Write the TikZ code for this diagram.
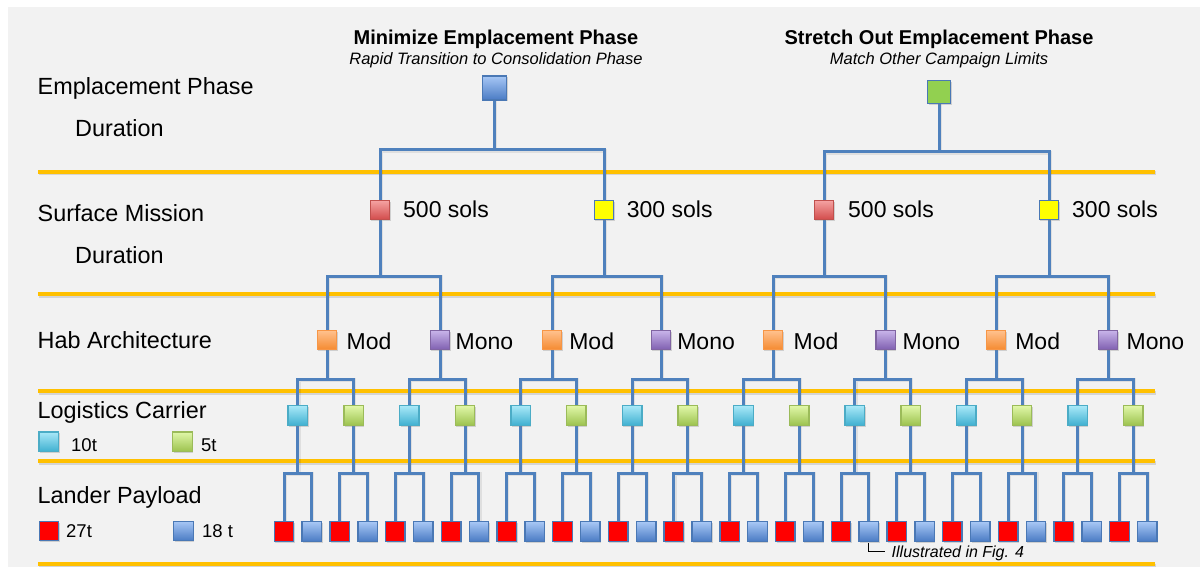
\documentclass[tikz,border=0pt]{standalone}
\usepackage{fontspec}
\setmainfont{Liberation Sans}
\usetikzlibrary{shadows}
\definecolor{panelc}{HTML}{F2F2F2}
\definecolor{goldc}{HTML}{FFC000}
\definecolor{connc}{HTML}{4F81BD}
\definecolor{blueT}{HTML}{A7C7F5}
\definecolor{blueB}{HTML}{4A7BC4}
\definecolor{blueE}{HTML}{4A78B5}
\definecolor{greenF}{HTML}{92D050}
\definecolor{redT}{HTML}{F5A3A3}
\definecolor{redB}{HTML}{D24B4A}
\definecolor{redE}{HTML}{C0504D}
\definecolor{yelF}{HTML}{FFFF00}
\definecolor{oraT}{HTML}{FFC28F}
\definecolor{oraB}{HTML}{F58A30}
\definecolor{oraE}{HTML}{F79646}
\definecolor{purT}{HTML}{C9B5EA}
\definecolor{purB}{HTML}{7F5FB0}
\definecolor{purE}{HTML}{8064A2}
\definecolor{cyaT}{HTML}{A8E8F8}
\definecolor{cyaB}{HTML}{3FB0D0}
\definecolor{cyaE}{HTML}{4BACC6}
\definecolor{limT}{HTML}{E0F7A8}
\definecolor{limB}{HTML}{9CC24E}
\definecolor{limE}{HTML}{9BBB59}
\definecolor{redF}{HTML}{FF0000}
\pgfdeclarelayer{back}
\pgfdeclarelayer{wires}
\pgfsetlayers{back,wires,main}
\tikzset{
  box/.style={draw, line width=1.4pt, minimum size=19.5pt, inner sep=0pt, outer sep=0pt,
     drop shadow={shadow xshift=1pt, shadow yshift=-1.5pt, opacity=0.3}},
  bluebox/.style={box, draw=blueE, top color=blueT, bottom color=blueB},
  greenbox/.style={box, draw=blueE, fill=greenF},
  redgbox/.style={box, draw=redE, top color=redT, bottom color=redB},
  yelbox/.style={box, draw=blueE, fill=yelF},
  orabox/.style={box, draw=oraE, top color=oraT, bottom color=oraB},
  purbox/.style={box, draw=purE, top color=purT, bottom color=purB},
  cyabox/.style={box, draw=cyaE, top color=cyaT, bottom color=cyaB},
  limbox/.style={box, draw=limE, top color=limT, bottom color=limB},
  redbox/.style={box, draw=blueE, fill=redF},
  wire/.style={draw=connc, line width=3pt, line join=miter,
     preaction={draw=black, opacity=0.08, line width=4pt, transform canvas={xshift=0.6pt, yshift=-1pt}}},
  sepline/.style={draw=goldc, line width=4pt},
  sepshadow/.style={draw=black, opacity=0.12, line width=4pt},
  rowlab/.style={anchor=base west, inner sep=0pt, font=\fontsize{23.4}{27}\selectfont},
  optlab/.style={anchor=base west, inner sep=0pt, font=\fontsize{23}{27}\selectfont},
  leglab/.style={anchor=base west, inner sep=0pt, font=\fontsize{18.5}{22}\selectfont},
  titlelab/.style={anchor=base, inner sep=0pt, font=\fontsize{20}{24}\selectfont\bfseries},
  sublab/.style={anchor=base, inner sep=0pt, font=\fontsize{16.5}{20}\selectfont\itshape},
  notelab/.style={anchor=base west, inner sep=0pt, font=\fontsize{16}{19}\selectfont\itshape},
}
\begin{document}
\begin{tikzpicture}[x=1pt,y=-1pt]
\useasboundingbox (0,0) rectangle (1200,567);
\begin{pgfonlayer}{back}
  \fill[white] (0,0) rectangle (1200,567);
  \fill[panelc] (8,7) rectangle (1200,567);
  \foreach \yy in {172,294,391,461,564} {
    \draw[sepshadow] (39,\yy+1.5) -- (1156,\yy+1.5);
    \draw[sepline] (38,\yy) -- (1155,\yy);
  }
\end{pgfonlayer}

% row labels
\node[rowlab] (lab1) at (37.5,95) {Emplacement Phase};
\node[rowlab] (lab2) at (75,137) {Duration};
\node[rowlab] (lab3) at (37.5,221) {Surface Mission};
\node[rowlab] (lab4) at (75,263) {Duration};
\node[rowlab] (lab5) at (37.5,348) {Hab Architecture};
\node[rowlab] (lab6) at (37.5,418) {Logistics Carrier};
\node[rowlab] (lab7) at (37.5,503) {Lander Payload};

% legends
\node[cyabox] (lg1) at (48.8,441.7) {};
\node[leglab] (lg1t) at (71,451) {10t};
\node[limbox] (lg2) at (182.5,441.7) {};
\node[leglab] (lg2t) at (201,451) {5t};
\node[redbox] (lg3) at (49,531) {};
\node[leglab] (lg3t) at (66,537) {27t};
\node[bluebox] (lg4) at (183.5,531) {};
\node[leglab] (lg4t) at (202,537) {18 t};

% titles
\node[titlelab] (t1) at (496,45) {Minimize Emplacement Phase};
\node[sublab] (s1) at (496,65) {Rapid Transition to Consolidation Phase};
\node[titlelab] (t2) at (939,45) {Stretch Out Emplacement Phase};
\node[sublab] (s2) at (939,65) {Match Other Campaign Limits};

% level 0
\node[bluebox, minimum size=24pt] (r0) at (494.5,88) {};
\node[greenbox, minimum size=23pt] (g0) at (939,92) {};

% level 1
\foreach \xx/\st/\lx/\tx [count=\i] in {380/redgbox/403/500 sols, 604/yelbox/626.7/300 sols, 824/redgbox/848/500 sols, 1049/yelbox/1072/300 sols} {
  \node[\st] (a\i) at (\xx,210) {};
  \node[optlab] (at\i) at (\lx,218) {\tx};
}

% level 2
\foreach \xx/\st/\lx/\tx [count=\i] in {327/orabox/346.4/Mod, 440/purbox/455.4/Mono, 552/orabox/569.1/Mod, 661/purbox/677.1/Mono, 773/orabox/793.4/Mod, 885.7/purbox/902.4/Mono, 996/orabox/1015.1/Mod, 1108/purbox/1126.4/Mono} {
  \node[\st] (b\i) at (\xx,340) {};
  \node[optlab] (bt\i) at (\lx,349) {\tx};
}

% level 3
\foreach \j in {0,2,...,14} {
  \pgfmathsetmacro\xx{297.9+55.7*\j}
  \node[cyabox] (c\j) at (\xx,415.5) {};
}
\foreach \j in {1,3,...,15} {
  \pgfmathsetmacro\xx{297.9+55.7*\j}
  \node[limbox] (c\j) at (\xx,415.5) {};
}

% level 4
\foreach \k in {0,2,...,30} {
  \pgfmathsetmacro\xx{284+27.85*\k}
  \node[redbox] (d\k) at (\xx,531.5) {};
}
\foreach \k in {1,3,...,31} {
  \pgfmathsetmacro\xx{284+27.85*\k}
  \node[bluebox] (d\k) at (\xx,531.5) {};
}

% note
\coordinate (illc) at (885,551);
\draw[black, line width=1pt, shorten <=1.5pt] (d21.south) |- (illc);
\node[notelab] (ill) at (891.5,557) {Illustrated in Fig. 4};

% wires
\begin{pgfonlayer}{wires}
  \coordinate (j0a) at (494.5,150);
  \coordinate (j0b) at (939,152);
  \draw[wire] (r0.south) -- (j0a);
  \draw[wire] (a1.north) |- (j0a) -| (a2.north);
  \draw[wire] (g0.south) -- (j0b);
  \draw[wire] (a3.north) |- (j0b) -| (a4.north);
  \foreach \i/\xx in {1/380,2/604,3/824,4/1049} {
    \pgfmathtruncatemacro\p{2*\i-1}
    \pgfmathtruncatemacro\q{2*\i}
    \coordinate (ja\i) at (\xx,276);
    \draw[wire] (a\i.south) -- (ja\i);
    \draw[wire] (b\p.north) |- (ja\i) -| (b\q.north);
  }
  \foreach \i/\xx in {1/327,2/440,3/552,4/661,5/773,6/885.7,7/996,8/1108} {
    \pgfmathtruncatemacro\p{2*\i-2}
    \pgfmathtruncatemacro\q{2*\i-1}
    \coordinate (jb\i) at (\xx,379);
    \draw[wire] (b\i.south) -- (jb\i);
    \draw[wire] (c\p.north) |- (jb\i) -| (c\q.north);
  }
  \foreach \j in {0,...,15} {
    \pgfmathsetmacro\xx{297.9+55.7*\j}
    \pgfmathtruncatemacro\p{2*\j}
    \pgfmathtruncatemacro\q{2*\j+1}
    \coordinate (jc\j) at (\xx,473);
    \draw[wire] (c\j.south) -- (jc\j);
    \draw[wire] (d\p.north) |- (jc\j) -| (d\q.north);
  }
\end{pgfonlayer}
\end{tikzpicture}
\end{document}
